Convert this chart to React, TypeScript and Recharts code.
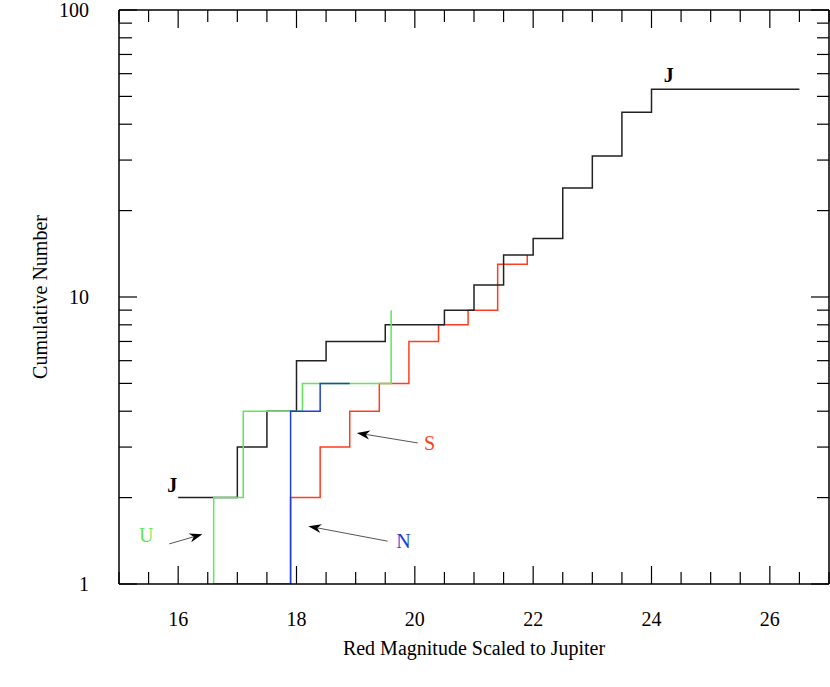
import { LineChart, Line, XAxis, YAxis, ReferenceLine, ReferenceDot } from 'recharts';

const FONT = '"Liberation Serif", "Times New Roman", Times, serif';
const GREEN = '#5ee85a';
const BLUE = '#1f3fd6';
const RED = '#ff3d1f';

const PLOT_W = 710;
const PLOT_H = 574;

// cumulative counts, step at each magnitude
const jMag = [16, 17, 17.5, 18, 18.5, 19.5, 20.5, 21, 21.5, 22, 22.5, 23, 23.5, 24, 26.5];
const jCount = [2, 3, 4, 6, 7, 8, 9, 11, 14, 16, 24, 31, 44, 53, 53];

const uMag = [16.6, 16.6, 17.1, 18.1, 19.6];
const uCount = [1, 2, 4, 5, 9];

const nMag = [17.9, 17.9, 18.4, 18.9];
const nCount = [1, 4, 5, 5];

const sMag = [16.6, 17.9, 18.4, 18.9, 19.4, 19.9, 20.4, 20.9, 21.4, 21.9];
const sCount = [1, 2, 3, 4, 5, 7, 8, 9, 13, 14];

const xTicks = Array.from({ length: 25 }, (_, i) => 15 + i * 0.5);
const xLabels = [16, 18, 20, 22, 24, 26];
const yTicks = [1, 2, 3, 4, 5, 6, 7, 8, 9, 10, 20, 30, 40, 50, 60, 70, 80, 90, 100];
const yLabels = [1, 10, 100];

const textMarks = [
  { x: 15.9, y: 2.21, text: 'J', color: '#000' },
  { x: 24.29, y: 59.4, text: 'J', color: '#000' },
  { x: 15.46, y: 1.48, text: 'U', color: GREEN },
  { x: 19.81, y: 1.41, text: 'N', color: BLUE },
  { x: 20.25, y: 3.1, text: 'S', color: RED },
];

const arrows = [
  { x1: 15.85, y1: 1.38, x2: 16.41, y2: 1.49 },
  { x1: 19.54, y1: 1.41, x2: 18.2, y2: 1.59 },
  { x1: 20.05, y1: 3.1, x2: 19.02, y2: 3.36 },
];

const toRows = (mags: number[], counts: number[]) => mags.map((m, i) => ({ mag: m, n: counts[i] }));

const jData = toRows(jMag, jCount);
const uData = toRows(uMag, uCount);
const nData = toRows(nMag, nCount);
const sData = toRows(sMag, sCount);

// bottom ticks point inward, mirrored on the top edge
const BottomTick = ({ x, y, payload }: any) => {
  const len = xLabels.includes(payload.value) ? 18 : 12;
  const top = y - PLOT_H;
  return (
    <g>
      <line x1={x} y1={y} x2={x} y2={y - len} stroke="#000" strokeWidth={1.2} />
      <line x1={x} y1={top} x2={x} y2={top + len} stroke="#000" strokeWidth={1.2} />
      {xLabels.includes(payload.value) && (
        <text x={x} y={y + 35} textAnchor="middle" dominantBaseline="central" fontSize={20} fontFamily={FONT} fill="#000">
          {payload.value}
        </text>
      )}
    </g>
  );
};

// left ticks point inward, mirrored on the right edge
const LeftTick = ({ x, y, payload }: any) => {
  const major = yLabels.includes(payload.value);
  const right = x + PLOT_W;
  return (
    <g>
      <line x1={x} y1={y} x2={x + (major ? 18 : 13)} y2={y} stroke="#000" strokeWidth={1.2} />
      <line x1={right} y1={y} x2={right - (major ? 18 : 12)} y2={y} stroke="#000" strokeWidth={1.2} />
      {major && (
        <text x={x - 30} y={y} textAnchor="end" dominantBaseline="central" fontSize={20} fontFamily={FONT} fill="#000">
          {payload.value}
        </text>
      )}
    </g>
  );
};

const Arrow = (props: any) => {
  const { x1, y1, x2, y2 } = props;
  const a = Math.atan2(y2 - y1, x2 - x1);
  const len = 13;
  const w = 4.5;
  const bx = x2 - len * Math.cos(a);
  const by = y2 - len * Math.sin(a);
  const nx = x2 - len * 0.7 * Math.cos(a);
  const ny = y2 - len * 0.7 * Math.sin(a);
  const px = -Math.sin(a) * w;
  const py = Math.cos(a) * w;
  return (
    <g>
      <line x1={x1} y1={y1} x2={nx} y2={ny} stroke="#555" strokeWidth={1} />
      <polygon points={`${x2},${y2} ${bx + px},${by + py} ${nx},${ny} ${bx - px},${by - py}`} fill="#000" />
    </g>
  );
};

export default function App() {
  return (
    <div style={{ fontFamily: FONT, position: 'absolute', left: 0, top: 0 }}>
      <LineChart width={830} height={687} margin={{ top: 10, right: 1, bottom: 0, left: 0 }}>
        <XAxis
          type="number"
          dataKey="mag"
          domain={[15, 27]}
          ticks={xTicks}
          interval={0}
          height={103}
          tickSize={0}
          tickMargin={0}
          tickLine={false}
          tick={<BottomTick />}
          axisLine={{ stroke: '#000', strokeWidth: 1.5 }}
          allowDataOverflow
          label={{
            value: 'Red Magnitude Scaled to Jupiter',
            position: 'insideTop',
            offset: 57,
            fontSize: 20,
            fontFamily: FONT,
            fill: '#000',
          }}
        />
        <YAxis
          scale="log"
          domain={[1, 100]}
          ticks={yTicks}
          interval={0}
          width={119}
          tickSize={0}
          tickMargin={0}
          tickLine={false}
          tick={<LeftTick />}
          axisLine={{ stroke: '#000', strokeWidth: 1.5 }}
          allowDataOverflow
          label={{
            value: 'Cumulative Number',
            angle: -90,
            position: 'center',
            dx: -20,
            fontSize: 20,
            fontFamily: FONT,
            fill: '#000',
          }}
        />
        {/* frame: top and right edges */}
        <ReferenceLine y={100} stroke="#000" strokeWidth={1.5} ifOverflow="visible" />
        <ReferenceLine x={27} stroke="#000" strokeWidth={1.5} ifOverflow="visible" />
        <Line data={sData} dataKey="n" type="stepAfter" stroke={RED} strokeWidth={1.5} dot={false} isAnimationActive={false} />
        <Line data={jData} dataKey="n" type="stepAfter" stroke="#222" strokeWidth={1.5} dot={false} isAnimationActive={false} />
        <Line data={uData} dataKey="n" type="stepAfter" stroke={GREEN} strokeWidth={1.5} dot={false} isAnimationActive={false} />
        <Line data={nData} dataKey="n" type="stepAfter" stroke={BLUE} strokeWidth={1.5} dot={false} isAnimationActive={false} />
        {arrows.map((a, i) => (
          <ReferenceLine
            key={`arrow-${i}`}
            segment={[
              { x: a.x1, y: a.y1 },
              { x: a.x2, y: a.y2 },
            ]}
            shape={<Arrow />}
          />
        ))}
        {textMarks.map((t, i) => (
          <ReferenceDot
            key={`mark-${i}`}
            x={t.x}
            y={t.y}
            r={0}
            shape={(p: any) => (
              <text
                x={p.cx}
                y={p.cy}
                textAnchor="middle"
                dominantBaseline="central"
                fontSize={20}
                fontFamily={FONT}
                fontWeight={t.text === 'J' ? 'bold' : 'normal'}
                fill={t.color}
              >
                {t.text}
              </text>
            )}
          />
        ))}
      </LineChart>
    </div>
  );
}
